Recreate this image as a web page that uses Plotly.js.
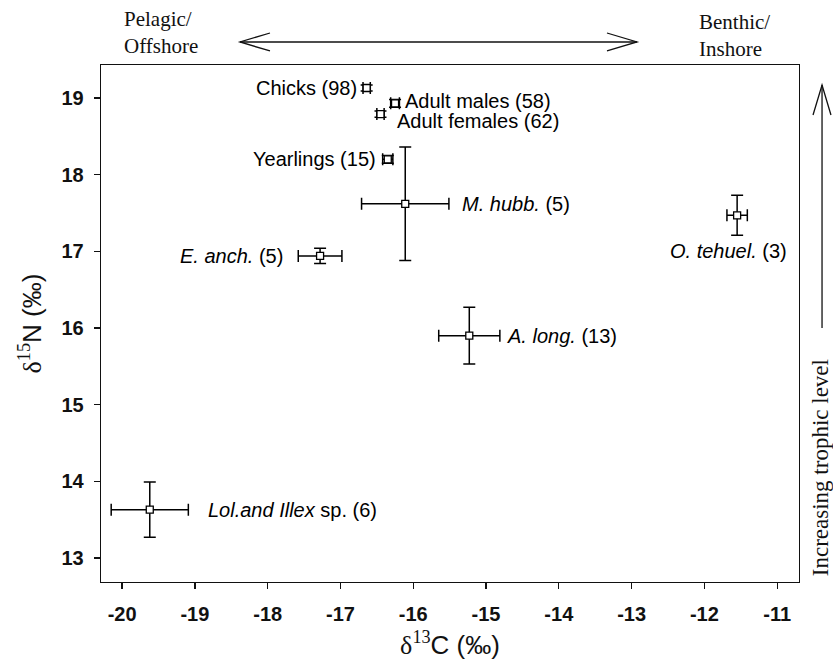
<!DOCTYPE html>
<html><head><meta charset="utf-8">
<script src="https://cdn.plot.ly/plotly-3.0.1.min.js"></script>
<style>body{margin:0;background:#fff}</style>
</head><body><div id="chart" style="width:833px;height:666px"></div>
<script>
// ---- data ----
const groupNames = ["Chicks", "Adult males", "Adult females", "Yearlings", "M. hubb.", "E. anch.", "O. tehuel.", "A. long.", "Lol.and Illex sp."];
const groupLabels = ["Chicks (98)", "Adult males (58)", "Adult females (62)", "Yearlings (15)", "<i>M. hubb.</i> (5)", "<i>E. anch.</i> (5)", "<i>O. tehuel.</i> (3)", "<i>A. long.</i> (13)", "<i>Lol.and Illex</i> sp. (6)"];
const d13C = [-16.64, -16.25, -16.45, -16.35, -16.11, -17.28, -11.55, -15.23, -19.62];
const d15N = [19.13, 18.93, 18.79, 18.20, 17.62, 16.94, 17.47, 15.90, 13.63];
const errC = [0.05, 0.06, 0.05, 0.07, 0.60, 0.30, 0.14, 0.42, 0.53];
const errN = [0.04, 0.05, 0.04, 0.05, 0.74, 0.10, 0.26, 0.37, 0.36];
const xTicks = [-20, -19, -18, -17, -16, -15, -14, -13, -12, -11];
const yTicks = [13, 14, 15, 16, 17, 18, 19];

// label placement (style only)
const labelStyle = [
  {xanchor: "right", xshift: -8, yshift: 0},
  {xanchor: "left", xshift: 8, yshift: 2},
  {xanchor: "left", xshift: 15, yshift: -7},
  {xanchor: "right", xshift: -10, yshift: 0},
  {xanchor: "left", xshift: 55, yshift: 0},
  {xanchor: "right", xshift: -35, yshift: 0},
  {xanchor: "center", xshift: -9, yshift: -36},
  {xanchor: "left", xshift: 36, yshift: 0},
  {xanchor: "left", xshift: 56, yshift: 0}
];

const SANS = "Liberation Sans, Arial, sans-serif";
const SERIF = "Liberation Serif, Times New Roman, serif";

const trace = {
  type: "scatter", mode: "markers",
  x: d13C, y: d15N, text: groupNames,
  marker: {symbol: "square", size: 7, color: "#fff", line: {color: "#000", width: 1.3}},
  error_x: {type: "data", array: errC, visible: true, color: "#000", thickness: 1.5, width: 6},
  error_y: {type: "data", array: errN, visible: true, color: "#000", thickness: 1.5, width: 6},
  hoverinfo: "text", showlegend: false
};

const annotations = groupLabels.map((t, i) => ({
  x: d13C[i], y: d15N[i], xref: "x", yref: "y", text: t, showarrow: false,
  xanchor: labelStyle[i].xanchor, yanchor: "middle",
  xshift: labelStyle[i].xshift, yshift: labelStyle[i].yshift,
  font: {family: SANS, size: 20, color: "#000"}
}));

annotations.push(
  {xref: "paper", yref: "paper", x: 0.030, y: 1.063, xanchor: "left", yanchor: "middle", align: "left",
   text: "Pelagic/<br>Offshore", showarrow: false, font: {family: SERIF, size: 21, color: "#111"}},
  {xref: "paper", yref: "paper", x: 0.854, y: 1.058, xanchor: "left", yanchor: "middle", align: "left",
   text: "Benthic/<br>Inshore", showarrow: false, font: {family: SERIF, size: 21, color: "#111"}},
  {xref: "paper", yref: "paper", x: 1.030, y: 0.222, xanchor: "center", yanchor: "middle", textangle: -90,
   text: "Increasing trophic level", showarrow: false, font: {family: SERIF, size: 23, color: "#111"}}
);

const ln = {color: "#111", width: 1.3};
const shapes = [
  {type: "line", xref: "paper", yref: "paper", x0: 0.1991, x1: 0.7679, y0: 1.0445, y1: 1.0445, line: ln},
  {type: "path", xref: "paper", yref: "paper", path: "M 0.2421 1.0619 L 0.1991 1.0445 L 0.2421 1.0271", line: ln},
  {type: "path", xref: "paper", yref: "paper", path: "M 0.7249 1.0619 L 0.7679 1.0445 L 0.7249 1.0271", line: ln},
  {type: "line", xref: "paper", yref: "paper", x0: 1.033, x1: 1.033, y0: 0.4913, y1: 0.9613, line: ln},
  {type: "path", xref: "paper", yref: "paper", path: "M 1.0201 0.9033 L 1.033 0.9613 L 1.0458 0.9033", line: ln}
];

const axisCommon = {
  showgrid: false, zeroline: false, showline: true, mirror: true,
  linecolor: "#111", linewidth: 1.3,
  ticks: "outside", ticklen: 6, tickwidth: 1.3, tickcolor: "#111",
  tickfont: {family: SANS, size: 20, color: "#111", weight: "bold"}
};

const layout = {
  width: 833, height: 666,
  margin: {l: 101, r: 34, t: 65, b: 84},
  paper_bgcolor: "#fff", plot_bgcolor: "#fff",
  xaxis: Object.assign({}, axisCommon, {
    range: [-20.29, -10.70], tickvals: xTicks, ticktext: xTicks.map(String), ticklabelstandoff: 8,
    title: {text: "<span style='font-family:Liberation Serif'>δ<sup>13</sup></span>C (‰)", font: {family: SANS, size: 26, color: "#111"}, standoff: 11}
  }),
  yaxis: Object.assign({}, axisCommon, {
    range: [12.687, 19.43], tickvals: yTicks, ticktext: yTicks.map(String), ticklabelstandoff: 6,
    title: {text: "<span style='font-family:Liberation Serif'>δ<sup>15</sup></span>N (‰)", font: {family: SANS, size: 26, color: "#111"}, standoff: 12}
  }),
  annotations: annotations,
  shapes: shapes
};

Plotly.newPlot("chart", [trace], layout, {displayModeBar: false, staticPlot: true});
</script>
</body></html>
